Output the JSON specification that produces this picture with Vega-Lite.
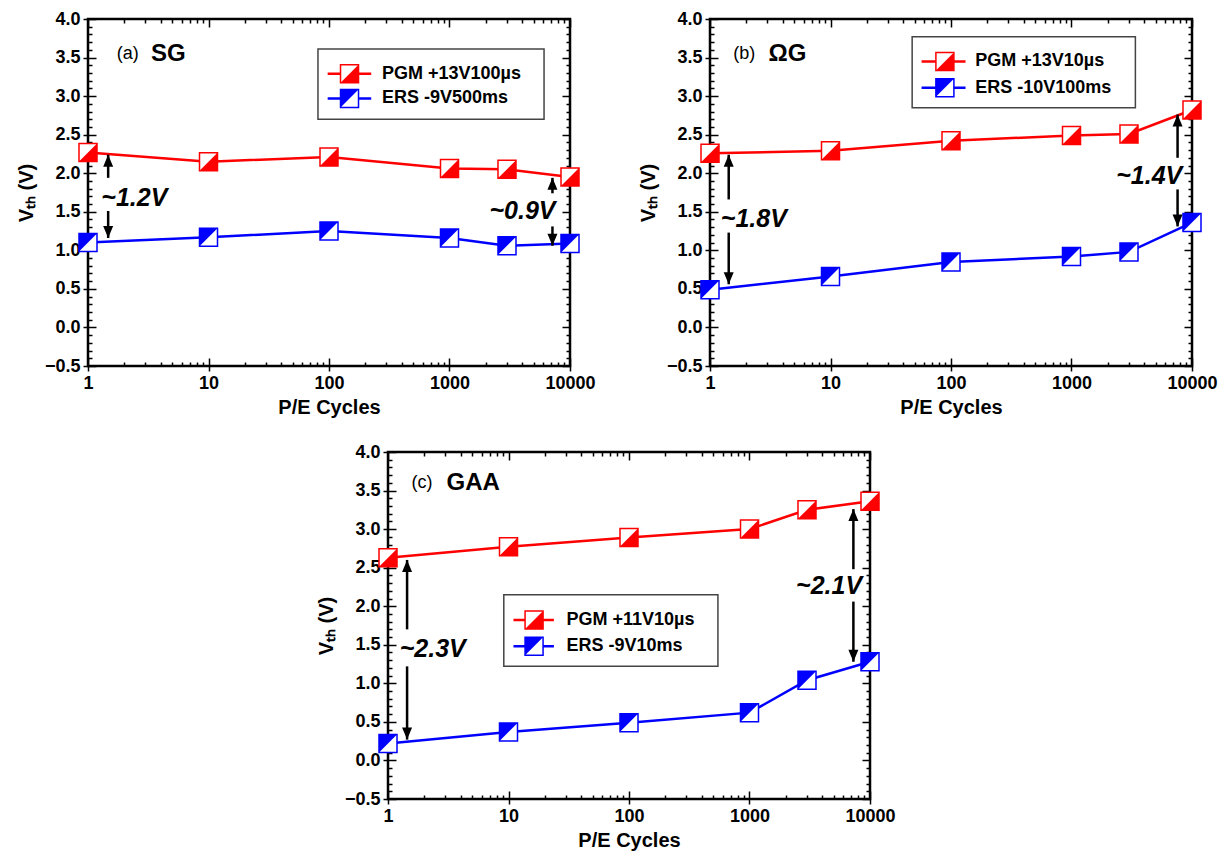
{
"$schema": "https://vega.github.io/schema/vega-lite/v6.json",
"padding": {"left": 15, "top": 8, "right": 5, "bottom": 5},
"background": "white",
"config": {
  "font": "Liberation Sans",
  "view": {"stroke": "black", "strokeWidth": 2.5},
  "axis": {"domain": false, "grid": false, "labelFont": "Liberation Sans", "labelFontWeight": "bold", "labelFontSize": 18, "labelColor": "black", "tickColor": "black", "tickWidth": 1.5, "titleFont": "Liberation Sans", "titleFontWeight": "bold", "titleFontSize": 20, "titleColor": "black", "labelFlush": false, "labelOverlap": false}
},
"datasets": {"all": [
  {"p":"a","t":"pt","s":"PGM","x":1,"y":2.27},{"p":"a","t":"pt","s":"PGM","x":10,"y":2.15},{"p":"a","t":"pt","s":"PGM","x":100,"y":2.21},{"p":"a","t":"pt","s":"PGM","x":1000,"y":2.06},{"p":"a","t":"pt","s":"PGM","x":3000,"y":2.05},{"p":"a","t":"pt","s":"PGM","x":10000,"y":1.95},
  {"p":"a","t":"pt","s":"ERS","x":1,"y":1.10},{"p":"a","t":"pt","s":"ERS","x":10,"y":1.17},{"p":"a","t":"pt","s":"ERS","x":100,"y":1.25},{"p":"a","t":"pt","s":"ERS","x":1000,"y":1.16},{"p":"a","t":"pt","s":"ERS","x":3000,"y":1.06},{"p":"a","t":"pt","s":"ERS","x":10000,"y":1.09},
  {"p":"a","t":"box","x":81,"x2":6090,"y":3.61,"y2":2.70},
  {"p":"a","t":"lgl","s":"PGM","x":97.5,"x2":224,"y":3.29},{"p":"a","t":"lgl","s":"ERS","x":97.5,"x2":224,"y":2.97},
  {"p":"a","t":"lgm","s":"PGM","x":148,"y":3.29},{"p":"a","t":"lgm","s":"ERS","x":148,"y":2.97},
  {"p":"a","t":"lgt","s":"PGM","x":275,"y":3.29,"label":"PGM +13V100µs"},{"p":"a","t":"lgt","s":"ERS","x":275,"y":2.97,"label":"ERS -9V500ms"},
  {"p":"a","t":"arrU","x":1.47,"y":2.24,"y2":1.94},{"p":"a","t":"arrU","x":7150,"y":1.94,"y2":1.74},
  {"p":"a","t":"arrD","x":1.47,"y":1.16,"y2":1.51},{"p":"a","t":"arrD","x":7150,"y":1.06,"y2":1.31},
  {"p":"a","t":"annL","x":1.29,"y":1.68,"label":"~1.2V"},{"p":"a","t":"annR","x":7580,"y":1.51,"label":"~0.9V"},
  {"p":"a","t":"tag","x":1.73,"y":3.54,"label":"(a)"},{"p":"a","t":"name","x":3.33,"y":3.54,"label":"SG"},

  {"p":"b","t":"pt","s":"PGM","x":1,"y":2.26},{"p":"b","t":"pt","s":"PGM","x":10,"y":2.29},{"p":"b","t":"pt","s":"PGM","x":100,"y":2.42},{"p":"b","t":"pt","s":"PGM","x":1000,"y":2.49},{"p":"b","t":"pt","s":"PGM","x":3000,"y":2.51},{"p":"b","t":"pt","s":"PGM","x":10000,"y":2.82},
  {"p":"b","t":"pt","s":"ERS","x":1,"y":0.49},{"p":"b","t":"pt","s":"ERS","x":10,"y":0.66},{"p":"b","t":"pt","s":"ERS","x":100,"y":0.85},{"p":"b","t":"pt","s":"ERS","x":1000,"y":0.92},{"p":"b","t":"pt","s":"ERS","x":3000,"y":0.98},{"p":"b","t":"pt","s":"ERS","x":10000,"y":1.36},
  {"p":"b","t":"box","x":47.6,"x2":3390,"y":3.77,"y2":2.85},
  {"p":"b","t":"lgl","s":"PGM","x":57,"x2":132,"y":3.45},{"p":"b","t":"lgl","s":"ERS","x":57,"x2":132,"y":3.11},
  {"p":"b","t":"lgm","s":"PGM","x":89,"y":3.45},{"p":"b","t":"lgm","s":"ERS","x":89,"y":3.11},
  {"p":"b","t":"lgt","s":"PGM","x":159,"y":3.45,"label":"PGM +13V10µs"},{"p":"b","t":"lgt","s":"ERS","x":159,"y":3.11,"label":"ERS -10V100ms"},
  {"p":"b","t":"arrU","x":1.43,"y":2.24,"y2":1.66},{"p":"b","t":"arrU","x":7590,"y":2.76,"y2":2.20},
  {"p":"b","t":"arrD","x":1.43,"y":0.56,"y2":1.23},{"p":"b","t":"arrD","x":7590,"y":1.31,"y2":1.79},
  {"p":"b","t":"annL","x":1.23,"y":1.40,"label":"~1.8V"},{"p":"b","t":"annR","x":8300,"y":1.96,"label":"~1.4V"},
  {"p":"b","t":"tag","x":1.56,"y":3.54,"label":"(b)"},{"p":"b","t":"name","x":3.06,"y":3.54,"label":"ΩG"},

  {"p":"c","t":"pt","s":"PGM","x":1,"y":2.63},{"p":"c","t":"pt","s":"PGM","x":10,"y":2.77},{"p":"c","t":"pt","s":"PGM","x":100,"y":2.89},{"p":"c","t":"pt","s":"PGM","x":1000,"y":3.0},{"p":"c","t":"pt","s":"PGM","x":3000,"y":3.25},{"p":"c","t":"pt","s":"PGM","x":10000,"y":3.36},
  {"p":"c","t":"pt","s":"ERS","x":1,"y":0.22},{"p":"c","t":"pt","s":"ERS","x":10,"y":0.37},{"p":"c","t":"pt","s":"ERS","x":100,"y":0.49},{"p":"c","t":"pt","s":"ERS","x":1000,"y":0.62},{"p":"c","t":"pt","s":"ERS","x":3000,"y":1.04},{"p":"c","t":"pt","s":"ERS","x":10000,"y":1.28},
  {"p":"c","t":"box","x":9.14,"x2":547,"y":2.15,"y2":1.22},
  {"p":"c","t":"lgl","s":"PGM","x":11.0,"x2":23.8,"y":1.82},{"p":"c","t":"lgl","s":"ERS","x":11.0,"x2":23.8,"y":1.48},
  {"p":"c","t":"lgm","s":"PGM","x":16.3,"y":1.82},{"p":"c","t":"lgm","s":"ERS","x":16.3,"y":1.48},
  {"p":"c","t":"lgt","s":"PGM","x":30.3,"y":1.82,"label":"PGM +11V10µs"},{"p":"c","t":"lgt","s":"ERS","x":30.3,"y":1.48,"label":"ERS -9V10ms"},
  {"p":"c","t":"arrU","x":1.44,"y":2.60,"y2":1.70},{"p":"c","t":"arrU","x":7280,"y":3.26,"y2":2.48},
  {"p":"c","t":"arrD","x":1.44,"y":0.27,"y2":1.22},{"p":"c","t":"arrD","x":7280,"y":1.28,"y2":2.06},
  {"p":"c","t":"annL","x":1.25,"y":1.44,"label":"~2.3V"},{"p":"c","t":"annR","x":8600,"y":2.26,"label":"~2.1V"},
  {"p":"c","t":"tag","x":1.57,"y":3.60,"label":"(c)"},{"p":"c","t":"name","x":3.06,"y":3.60,"label":"GAA"}
]},
"data": {"name": "all"},
"spacing": 22,
"vconcat": [
 {"hconcat": [
  {"width": 482, "height": 347,
   "transform": [{"filter": "datum.p == 'a'"}],
   "encoding": {
     "x": {"field":"x","type":"quantitative","scale":{"type":"log","domain":[1,10000]},"axis":null},
     "y": {"field":"y","type":"quantitative","scale":{"domain":[-0.5,4],"nice":false,"zero":false},"axis":null}
   },
   "layer": [
    {"transform":[{"filter":"datum.t == 'pt'"}],"mark":{"type":"point","opacity":0},
     "encoding":{
      "x":{"field":"x","type":"quantitative","scale":{"type":"log","domain":[1,10000]},"axis":{"orient":"bottom","values":[1,10,100,1000,10000],"format":"d","title":"P/E Cycles","tickSize":5,"labelPadding":3,"titlePadding":5}},
      "y":{"field":"y","type":"quantitative","scale":{"domain":[-0.5,4],"nice":false,"zero":false},"axis":{"orient":"left","values":[-0.5,0,0.5,1,1.5,2,2.5,3,3.5,4],"format":".1f","title":"V\u209c\u2095 (V)","tickSize":5,"labelPadding":3,"titlePadding":8}}}},
    {"transform":[{"filter":"datum.t == 'pt'"}],"mark":{"type":"point","opacity":0},
     "encoding":{
      "x":{"field":"x","type":"quantitative","scale":{"type":"log","domain":[1,10000]},"axis":{"orient":"bottom","values":[1,2,3,4,5,6,7,8,9,10,20,30,40,50,60,70,80,90,100,200,300,400,500,600,700,800,900,1000,2000,3000,4000,5000,6000,7000,8000,9000,10000],"labels":false,"title":null,"tickSize":{"condition":{"test":"indexof([1,10,100,1000,10000], datum.value) >= 0","value":-8},"value":-4}}},
      "y":{"field":"y","type":"quantitative","scale":{"domain":[-0.5,4],"nice":false,"zero":false},"axis":{"orient":"left","values":[-0.5,-0.4,-0.3,-0.2,-0.1,0,0.1,0.2,0.3,0.4,0.5,0.6,0.7,0.8,0.9,1,1.1,1.2,1.3,1.4,1.5,1.6,1.7,1.8,1.9,2,2.1,2.2,2.3,2.4,2.5,2.6,2.7,2.8,2.9,3,3.1,3.2,3.3,3.4,3.5,3.6,3.7,3.8,3.9,4],"labels":false,"title":null,"tickSize":{"condition":{"test":"abs(datum.value*2 - round(datum.value*2)) < 0.01","value":-8},"value":-4}}}}},
    {"transform":[{"filter":"datum.t == 'pt'"}],"mark":{"type":"point","opacity":0},
     "encoding":{
      "x":{"field":"x","type":"quantitative","scale":{"type":"log","domain":[1,10000]},"axis":{"orient":"top","values":[1,2,3,4,5,6,7,8,9,10,20,30,40,50,60,70,80,90,100,200,300,400,500,600,700,800,900,1000,2000,3000,4000,5000,6000,7000,8000,9000,10000],"labels":false,"title":null,"tickSize":{"condition":{"test":"indexof([1,10,100,1000,10000], datum.value) >= 0","value":-8},"value":-4}}},
      "y":{"field":"y","type":"quantitative","scale":{"domain":[-0.5,4],"nice":false,"zero":false},"axis":{"orient":"right","values":[-0.5,-0.4,-0.3,-0.2,-0.1,0,0.1,0.2,0.3,0.4,0.5,0.6,0.7,0.8,0.9,1,1.1,1.2,1.3,1.4,1.5,1.6,1.7,1.8,1.9,2,2.1,2.2,2.3,2.4,2.5,2.6,2.7,2.8,2.9,3,3.1,3.2,3.3,3.4,3.5,3.6,3.7,3.8,3.9,4],"labels":false,"title":null,"tickSize":{"condition":{"test":"abs(datum.value*2 - round(datum.value*2)) < 0.01","value":-8},"value":-4}}}}},
    {"transform":[{"filter":"datum.t == 'box'"}],"mark":{"type":"rect","fill":"white","stroke":"#444444","strokeWidth":1.5},
     "encoding":{"x2":{"field":"x2"},"y2":{"field":"y2"}}},
    {"transform":[{"filter":"datum.t == 'pt'"}],"mark":{"type":"line","strokeWidth":2.5},
     "encoding":{"color":{"field":"s","type":"nominal","scale":{"domain":["PGM","ERS"],"range":["#ff0000","#0000ff"]},"legend":null}}},
    {"transform":[{"filter":"datum.t == 'lgl'"}],"mark":{"type":"rule","strokeWidth":2.5},
     "encoding":{"x2":{"field":"x2"},"color":{"field":"s","type":"nominal","scale":{"domain":["PGM","ERS"],"range":["#ff0000","#0000ff"]},"legend":null}}},
    {"transform":[{"filter":"datum.t == 'pt' || datum.t == 'lgm'"}],"mark":{"type":"point","shape":"square","filled":true,"fill":"white","size":324,"strokeWidth":1.5,"opacity":1},
     "encoding":{"stroke":{"field":"s","type":"nominal","scale":{"domain":["PGM","ERS"],"range":["#ff0000","#0000ff"]},"legend":null}}},
    {"transform":[{"filter":"datum.t == 'pt' || datum.t == 'lgm'"}],"mark":{"type":"point","filled":true,"size":324,"opacity":1},
     "encoding":{"color":{"field":"s","type":"nominal","scale":{"domain":["PGM","ERS"],"range":["#ff0000","#0000ff"]},"legend":null},
                 "shape":{"field":"s","type":"nominal","scale":{"domain":["PGM","ERS"],"range":["M-1,1L1,1L1,-1Z","M-1,-1L1,-1L-1,1Z"]},"legend":null}}},
    {"transform":[{"filter":"datum.t == 'lgt'"}],"mark":{"type":"text","align":"left","baseline":"middle","fontSize":18,"fontWeight":"bold","color":"black"},
     "encoding":{"text":{"field":"label"}}},
    {"transform":[{"filter":"datum.t == 'arrU' || datum.t == 'arrD'"}],"mark":{"type":"rule","strokeWidth":2.5,"color":"black"},
     "encoding":{"y2":{"field":"y2"}}},
    {"transform":[{"filter":"datum.t == 'arrU'"}],"mark":{"type":"point","shape":"M0,0L-1,2.4L1,2.4Z","filled":true,"size":100,"color":"black","opacity":1}},
    {"transform":[{"filter":"datum.t == 'arrD'"}],"mark":{"type":"point","shape":"M0,0L-1,-2.4L1,-2.4Z","filled":true,"size":100,"color":"black","opacity":1}},
    {"transform":[{"filter":"datum.t == 'annL'"}],"mark":{"type":"text","align":"left","baseline":"middle","fontSize":25,"fontWeight":"bold","fontStyle":"italic","color":"black"},
     "encoding":{"text":{"field":"label"}}},
    {"transform":[{"filter":"datum.t == 'annR'"}],"mark":{"type":"text","align":"right","baseline":"middle","fontSize":25,"fontWeight":"bold","fontStyle":"italic","color":"black"},
     "encoding":{"text":{"field":"label"}}},
    {"transform":[{"filter":"datum.t == 'tag'"}],"mark":{"type":"text","align":"left","baseline":"middle","fontSize":18,"color":"black"},
     "encoding":{"text":{"field":"label"}}},
    {"transform":[{"filter":"datum.t == 'name'"}],"mark":{"type":"text","align":"left","baseline":"middle","fontSize":24,"fontWeight":"bold","color":"black"},
     "encoding":{"text":{"field":"label"}}}
   ],
   "resolve": {"axis": {"x":"independent","y":"independent"}}
  },
  {"width": 482, "height": 347,
   "transform": [{"filter": "datum.p == 'b'"}],
   "encoding": {
     "x": {"field":"x","type":"quantitative","scale":{"type":"log","domain":[1,10000]},"axis":null},
     "y": {"field":"y","type":"quantitative","scale":{"domain":[-0.5,4],"nice":false,"zero":false},"axis":null}
   },
   "layer": [
    {"transform":[{"filter":"datum.t == 'pt'"}],"mark":{"type":"point","opacity":0},
     "encoding":{
      "x":{"field":"x","type":"quantitative","scale":{"type":"log","domain":[1,10000]},"axis":{"orient":"bottom","values":[1,10,100,1000,10000],"format":"d","title":"P/E Cycles","tickSize":5,"labelPadding":3,"titlePadding":5}},
      "y":{"field":"y","type":"quantitative","scale":{"domain":[-0.5,4],"nice":false,"zero":false},"axis":{"orient":"left","values":[-0.5,0,0.5,1,1.5,2,2.5,3,3.5,4],"format":".1f","title":"V\u209c\u2095 (V)","tickSize":5,"labelPadding":3,"titlePadding":8}}}},
    {"transform":[{"filter":"datum.t == 'pt'"}],"mark":{"type":"point","opacity":0},
     "encoding":{
      "x":{"field":"x","type":"quantitative","scale":{"type":"log","domain":[1,10000]},"axis":{"orient":"bottom","values":[1,2,3,4,5,6,7,8,9,10,20,30,40,50,60,70,80,90,100,200,300,400,500,600,700,800,900,1000,2000,3000,4000,5000,6000,7000,8000,9000,10000],"labels":false,"title":null,"tickSize":{"condition":{"test":"indexof([1,10,100,1000,10000], datum.value) >= 0","value":-8},"value":-4}}},
      "y":{"field":"y","type":"quantitative","scale":{"domain":[-0.5,4],"nice":false,"zero":false},"axis":{"orient":"left","values":[-0.5,-0.4,-0.3,-0.2,-0.1,0,0.1,0.2,0.3,0.4,0.5,0.6,0.7,0.8,0.9,1,1.1,1.2,1.3,1.4,1.5,1.6,1.7,1.8,1.9,2,2.1,2.2,2.3,2.4,2.5,2.6,2.7,2.8,2.9,3,3.1,3.2,3.3,3.4,3.5,3.6,3.7,3.8,3.9,4],"labels":false,"title":null,"tickSize":{"condition":{"test":"abs(datum.value*2 - round(datum.value*2)) < 0.01","value":-8},"value":-4}}}}},
    {"transform":[{"filter":"datum.t == 'pt'"}],"mark":{"type":"point","opacity":0},
     "encoding":{
      "x":{"field":"x","type":"quantitative","scale":{"type":"log","domain":[1,10000]},"axis":{"orient":"top","values":[1,2,3,4,5,6,7,8,9,10,20,30,40,50,60,70,80,90,100,200,300,400,500,600,700,800,900,1000,2000,3000,4000,5000,6000,7000,8000,9000,10000],"labels":false,"title":null,"tickSize":{"condition":{"test":"indexof([1,10,100,1000,10000], datum.value) >= 0","value":-8},"value":-4}}},
      "y":{"field":"y","type":"quantitative","scale":{"domain":[-0.5,4],"nice":false,"zero":false},"axis":{"orient":"right","values":[-0.5,-0.4,-0.3,-0.2,-0.1,0,0.1,0.2,0.3,0.4,0.5,0.6,0.7,0.8,0.9,1,1.1,1.2,1.3,1.4,1.5,1.6,1.7,1.8,1.9,2,2.1,2.2,2.3,2.4,2.5,2.6,2.7,2.8,2.9,3,3.1,3.2,3.3,3.4,3.5,3.6,3.7,3.8,3.9,4],"labels":false,"title":null,"tickSize":{"condition":{"test":"abs(datum.value*2 - round(datum.value*2)) < 0.01","value":-8},"value":-4}}}}},
    {"transform":[{"filter":"datum.t == 'box'"}],"mark":{"type":"rect","fill":"white","stroke":"#444444","strokeWidth":1.5},
     "encoding":{"x2":{"field":"x2"},"y2":{"field":"y2"}}},
    {"transform":[{"filter":"datum.t == 'pt'"}],"mark":{"type":"line","strokeWidth":2.5},
     "encoding":{"color":{"field":"s","type":"nominal","scale":{"domain":["PGM","ERS"],"range":["#ff0000","#0000ff"]},"legend":null}}},
    {"transform":[{"filter":"datum.t == 'lgl'"}],"mark":{"type":"rule","strokeWidth":2.5},
     "encoding":{"x2":{"field":"x2"},"color":{"field":"s","type":"nominal","scale":{"domain":["PGM","ERS"],"range":["#ff0000","#0000ff"]},"legend":null}}},
    {"transform":[{"filter":"datum.t == 'pt' || datum.t == 'lgm'"}],"mark":{"type":"point","shape":"square","filled":true,"fill":"white","size":324,"strokeWidth":1.5,"opacity":1},
     "encoding":{"stroke":{"field":"s","type":"nominal","scale":{"domain":["PGM","ERS"],"range":["#ff0000","#0000ff"]},"legend":null}}},
    {"transform":[{"filter":"datum.t == 'pt' || datum.t == 'lgm'"}],"mark":{"type":"point","filled":true,"size":324,"opacity":1},
     "encoding":{"color":{"field":"s","type":"nominal","scale":{"domain":["PGM","ERS"],"range":["#ff0000","#0000ff"]},"legend":null},
                 "shape":{"field":"s","type":"nominal","scale":{"domain":["PGM","ERS"],"range":["M-1,1L1,1L1,-1Z","M-1,-1L1,-1L-1,1Z"]},"legend":null}}},
    {"transform":[{"filter":"datum.t == 'lgt'"}],"mark":{"type":"text","align":"left","baseline":"middle","fontSize":18,"fontWeight":"bold","color":"black"},
     "encoding":{"text":{"field":"label"}}},
    {"transform":[{"filter":"datum.t == 'arrU' || datum.t == 'arrD'"}],"mark":{"type":"rule","strokeWidth":2.5,"color":"black"},
     "encoding":{"y2":{"field":"y2"}}},
    {"transform":[{"filter":"datum.t == 'arrU'"}],"mark":{"type":"point","shape":"M0,0L-1,2.4L1,2.4Z","filled":true,"size":100,"color":"black","opacity":1}},
    {"transform":[{"filter":"datum.t == 'arrD'"}],"mark":{"type":"point","shape":"M0,0L-1,-2.4L1,-2.4Z","filled":true,"size":100,"color":"black","opacity":1}},
    {"transform":[{"filter":"datum.t == 'annL'"}],"mark":{"type":"text","align":"left","baseline":"middle","fontSize":25,"fontWeight":"bold","fontStyle":"italic","color":"black"},
     "encoding":{"text":{"field":"label"}}},
    {"transform":[{"filter":"datum.t == 'annR'"}],"mark":{"type":"text","align":"right","baseline":"middle","fontSize":25,"fontWeight":"bold","fontStyle":"italic","color":"black"},
     "encoding":{"text":{"field":"label"}}},
    {"transform":[{"filter":"datum.t == 'tag'"}],"mark":{"type":"text","align":"left","baseline":"middle","fontSize":18,"color":"black"},
     "encoding":{"text":{"field":"label"}}},
    {"transform":[{"filter":"datum.t == 'name'"}],"mark":{"type":"text","align":"left","baseline":"middle","fontSize":24,"fontWeight":"bold","color":"black"},
     "encoding":{"text":{"field":"label"}}}
   ],
   "resolve": {"axis": {"x":"independent","y":"independent"}}
  }
 ], "spacing": 140, "bounds": "flush"},
 {"hconcat": [
  {"width": 280, "height": 347, "view": {"stroke": null},
   "transform": [{"filter": "false"}],
   "mark": {"type": "point", "opacity": 0}},
  {"width": 482, "height": 347,
   "transform": [{"filter": "datum.p == 'c'"}],
   "encoding": {
     "x": {"field":"x","type":"quantitative","scale":{"type":"log","domain":[1,10000]},"axis":null},
     "y": {"field":"y","type":"quantitative","scale":{"domain":[-0.5,4],"nice":false,"zero":false},"axis":null}
   },
   "layer": [
    {"transform":[{"filter":"datum.t == 'pt'"}],"mark":{"type":"point","opacity":0},
     "encoding":{
      "x":{"field":"x","type":"quantitative","scale":{"type":"log","domain":[1,10000]},"axis":{"orient":"bottom","values":[1,10,100,1000,10000],"format":"d","title":"P/E Cycles","tickSize":5,"labelPadding":3,"titlePadding":5}},
      "y":{"field":"y","type":"quantitative","scale":{"domain":[-0.5,4],"nice":false,"zero":false},"axis":{"orient":"left","values":[-0.5,0,0.5,1,1.5,2,2.5,3,3.5,4],"format":".1f","title":"V\u209c\u2095 (V)","tickSize":5,"labelPadding":3,"titlePadding":8}}}},
    {"transform":[{"filter":"datum.t == 'pt'"}],"mark":{"type":"point","opacity":0},
     "encoding":{
      "x":{"field":"x","type":"quantitative","scale":{"type":"log","domain":[1,10000]},"axis":{"orient":"bottom","values":[1,2,3,4,5,6,7,8,9,10,20,30,40,50,60,70,80,90,100,200,300,400,500,600,700,800,900,1000,2000,3000,4000,5000,6000,7000,8000,9000,10000],"labels":false,"title":null,"tickSize":{"condition":{"test":"indexof([1,10,100,1000,10000], datum.value) >= 0","value":-8},"value":-4}}},
      "y":{"field":"y","type":"quantitative","scale":{"domain":[-0.5,4],"nice":false,"zero":false},"axis":{"orient":"left","values":[-0.5,-0.4,-0.3,-0.2,-0.1,0,0.1,0.2,0.3,0.4,0.5,0.6,0.7,0.8,0.9,1,1.1,1.2,1.3,1.4,1.5,1.6,1.7,1.8,1.9,2,2.1,2.2,2.3,2.4,2.5,2.6,2.7,2.8,2.9,3,3.1,3.2,3.3,3.4,3.5,3.6,3.7,3.8,3.9,4],"labels":false,"title":null,"tickSize":{"condition":{"test":"abs(datum.value*2 - round(datum.value*2)) < 0.01","value":-8},"value":-4}}}}},
    {"transform":[{"filter":"datum.t == 'pt'"}],"mark":{"type":"point","opacity":0},
     "encoding":{
      "x":{"field":"x","type":"quantitative","scale":{"type":"log","domain":[1,10000]},"axis":{"orient":"top","values":[1,2,3,4,5,6,7,8,9,10,20,30,40,50,60,70,80,90,100,200,300,400,500,600,700,800,900,1000,2000,3000,4000,5000,6000,7000,8000,9000,10000],"labels":false,"title":null,"tickSize":{"condition":{"test":"indexof([1,10,100,1000,10000], datum.value) >= 0","value":-8},"value":-4}}},
      "y":{"field":"y","type":"quantitative","scale":{"domain":[-0.5,4],"nice":false,"zero":false},"axis":{"orient":"right","values":[-0.5,-0.4,-0.3,-0.2,-0.1,0,0.1,0.2,0.3,0.4,0.5,0.6,0.7,0.8,0.9,1,1.1,1.2,1.3,1.4,1.5,1.6,1.7,1.8,1.9,2,2.1,2.2,2.3,2.4,2.5,2.6,2.7,2.8,2.9,3,3.1,3.2,3.3,3.4,3.5,3.6,3.7,3.8,3.9,4],"labels":false,"title":null,"tickSize":{"condition":{"test":"abs(datum.value*2 - round(datum.value*2)) < 0.01","value":-8},"value":-4}}}}},
    {"transform":[{"filter":"datum.t == 'box'"}],"mark":{"type":"rect","fill":"white","stroke":"#444444","strokeWidth":1.5},
     "encoding":{"x2":{"field":"x2"},"y2":{"field":"y2"}}},
    {"transform":[{"filter":"datum.t == 'pt'"}],"mark":{"type":"line","strokeWidth":2.5},
     "encoding":{"color":{"field":"s","type":"nominal","scale":{"domain":["PGM","ERS"],"range":["#ff0000","#0000ff"]},"legend":null}}},
    {"transform":[{"filter":"datum.t == 'lgl'"}],"mark":{"type":"rule","strokeWidth":2.5},
     "encoding":{"x2":{"field":"x2"},"color":{"field":"s","type":"nominal","scale":{"domain":["PGM","ERS"],"range":["#ff0000","#0000ff"]},"legend":null}}},
    {"transform":[{"filter":"datum.t == 'pt' || datum.t == 'lgm'"}],"mark":{"type":"point","shape":"square","filled":true,"fill":"white","size":324,"strokeWidth":1.5,"opacity":1},
     "encoding":{"stroke":{"field":"s","type":"nominal","scale":{"domain":["PGM","ERS"],"range":["#ff0000","#0000ff"]},"legend":null}}},
    {"transform":[{"filter":"datum.t == 'pt' || datum.t == 'lgm'"}],"mark":{"type":"point","filled":true,"size":324,"opacity":1},
     "encoding":{"color":{"field":"s","type":"nominal","scale":{"domain":["PGM","ERS"],"range":["#ff0000","#0000ff"]},"legend":null},
                 "shape":{"field":"s","type":"nominal","scale":{"domain":["PGM","ERS"],"range":["M-1,1L1,1L1,-1Z","M-1,-1L1,-1L-1,1Z"]},"legend":null}}},
    {"transform":[{"filter":"datum.t == 'lgt'"}],"mark":{"type":"text","align":"left","baseline":"middle","fontSize":18,"fontWeight":"bold","color":"black"},
     "encoding":{"text":{"field":"label"}}},
    {"transform":[{"filter":"datum.t == 'arrU' || datum.t == 'arrD'"}],"mark":{"type":"rule","strokeWidth":2.5,"color":"black"},
     "encoding":{"y2":{"field":"y2"}}},
    {"transform":[{"filter":"datum.t == 'arrU'"}],"mark":{"type":"point","shape":"M0,0L-1,2.4L1,2.4Z","filled":true,"size":100,"color":"black","opacity":1}},
    {"transform":[{"filter":"datum.t == 'arrD'"}],"mark":{"type":"point","shape":"M0,0L-1,-2.4L1,-2.4Z","filled":true,"size":100,"color":"black","opacity":1}},
    {"transform":[{"filter":"datum.t == 'annL'"}],"mark":{"type":"text","align":"left","baseline":"middle","fontSize":25,"fontWeight":"bold","fontStyle":"italic","color":"black"},
     "encoding":{"text":{"field":"label"}}},
    {"transform":[{"filter":"datum.t == 'annR'"}],"mark":{"type":"text","align":"right","baseline":"middle","fontSize":25,"fontWeight":"bold","fontStyle":"italic","color":"black"},
     "encoding":{"text":{"field":"label"}}},
    {"transform":[{"filter":"datum.t == 'tag'"}],"mark":{"type":"text","align":"left","baseline":"middle","fontSize":18,"color":"black"},
     "encoding":{"text":{"field":"label"}}},
    {"transform":[{"filter":"datum.t == 'name'"}],"mark":{"type":"text","align":"left","baseline":"middle","fontSize":24,"fontWeight":"bold","color":"black"},
     "encoding":{"text":{"field":"label"}}}
   ],
   "resolve": {"axis": {"x":"independent","y":"independent"}}
  }
 ], "spacing": 20, "bounds": "flush"}
]
}
